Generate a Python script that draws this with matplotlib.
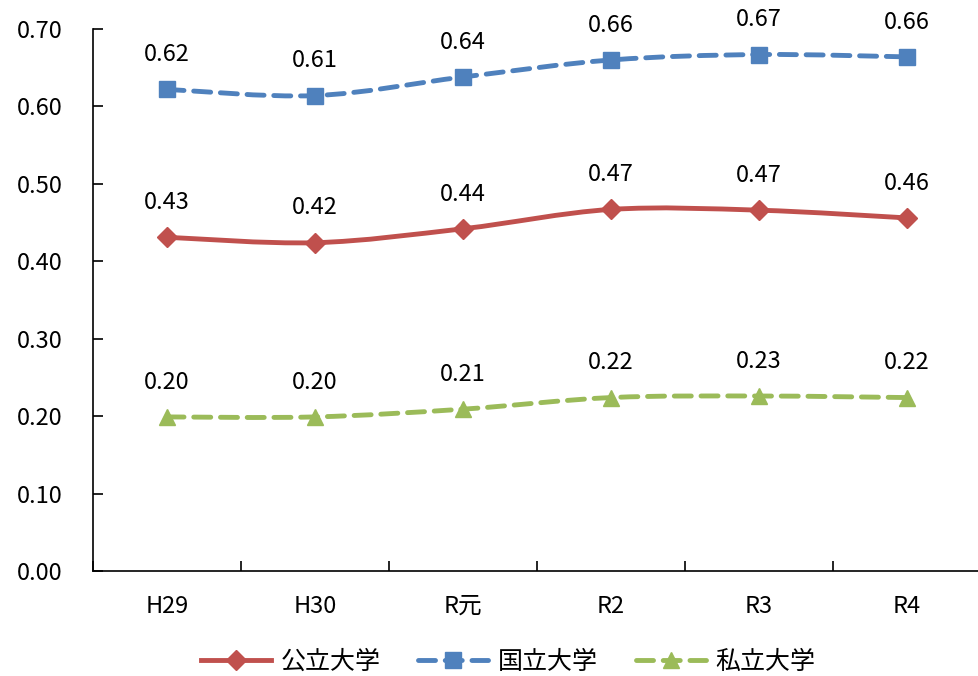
import matplotlib
matplotlib.use("Agg")
import matplotlib.pyplot as plt
import numpy as np
from matplotlib.path import Path
from matplotlib.patches import PathPatch
from matplotlib.lines import Line2D

plt.rcParams['font.family'] = ['Noto Sans CJK JP', 'DejaVu Sans']

categories = ["H29", "H30", "R元", "R2", "R3", "R4"]
public = [0.431, 0.424, 0.442, 0.467, 0.466, 0.456]
national = [0.622, 0.614, 0.638, 0.660, 0.667, 0.664]
private = [0.199, 0.199, 0.209, 0.224, 0.226, 0.224]
public_labels = ["0.43", "0.42", "0.44", "0.47", "0.47", "0.46"]
national_labels = ["0.62", "0.61", "0.64", "0.66", "0.67", "0.66"]
private_labels = ["0.20", "0.20", "0.21", "0.22", "0.23", "0.22"]
series_names = ["公立大学", "国立大学", "私立大学"]
yticks = [0.0, 0.1, 0.2, 0.3, 0.4, 0.5, 0.6, 0.7]

colors = ["#C0504D", "#4F81BD", "#9BBB59"]
markers = ["D", "s", "^"]
dashes = [None, (3.5, 2.0), (3.5, 2.0)]

fig = plt.figure(figsize=(9.79, 6.76), dpi=100)
ax = fig.add_axes([93/979, 1-571/676, 888/979, 542/676])
x = np.arange(len(categories))


def smooth_path(xs, ys):
    xs = np.asarray(xs, float); ys = np.asarray(ys, float)
    verts = [(xs[0], ys[0])]
    codes = [Path.MOVETO]
    n = len(xs)
    for i in range(n - 1):
        p0 = i - 1 if i > 0 else i
        p3 = i + 2 if i + 2 < n else i + 1
        c1 = (xs[i] + (xs[i+1] - xs[p0]) / 6, ys[i] + (ys[i+1] - ys[p0]) / 6)
        c2 = (xs[i+1] - (xs[p3] - xs[i]) / 6, ys[i+1] - (ys[p3] - ys[i]) / 6)
        verts += [c1, c2, (xs[i+1], ys[i+1])]
        codes += [Path.CURVE4] * 3
    return Path(verts, codes)


FS = 17
handles = []
for vals, labs, col, mk, ds, name in zip([public, national, private],
                                        [public_labels, national_labels, private_labels],
                                        colors, markers, dashes, series_names):
    ls = '-' if ds is None else (0, ds)
    patch = PathPatch(smooth_path(x, vals), fill=False, edgecolor=col, lw=3.5,
                      linestyle=ls, capstyle='round', joinstyle='round', zorder=2)
    ax.add_patch(patch)
    ms = 11 if mk != 'D' else 10
    ax.plot(x, vals, linestyle='none', marker=mk, color=col, markersize=ms, zorder=3)
    for xi, v, t in zip(x, vals, labs):
        ax.annotate(t, (xi, v), xytext=(0, 25), textcoords='offset points',
                    ha='center', va='center', fontsize=FS, color='black')
    h = Line2D([0], [0], color=col, lw=3.5, linestyle=ls, marker=mk,
               markersize=ms, dash_capstyle='round')
    handles.append(h)

ax.set_xlim(-0.5, 5.5)
ax.set_ylim(0, 0.70)
ax.set_yticks(yticks)
ax.set_yticklabels([f"{t:.2f}" for t in yticks], fontsize=FS)
ax.set_xticks(x)
ax.set_xticklabels(categories, fontsize=FS)
ax.set_xticks(np.arange(-0.5, 6.0, 1.0), minor=True)
ax.tick_params(axis='x', which='major', length=0, pad=17)
ax.tick_params(axis='x', which='minor', length=7, direction='in', width=1.2)
ax.tick_params(axis='y', length=7, direction='in', width=1.2, pad=22)
for s in ['top', 'right']:
    ax.spines[s].set_visible(False)
for s in ['left', 'bottom']:
    ax.spines[s].set_linewidth(1.2)

fig.legend(handles, series_names, loc='center', bbox_to_anchor=(508/979, 1-662/676),
           ncol=3, frameon=False, fontsize=18, handlelength=2.8, columnspacing=1.5,
           handletextpad=0.4)

fig.savefig("out.png", dpi=100)
